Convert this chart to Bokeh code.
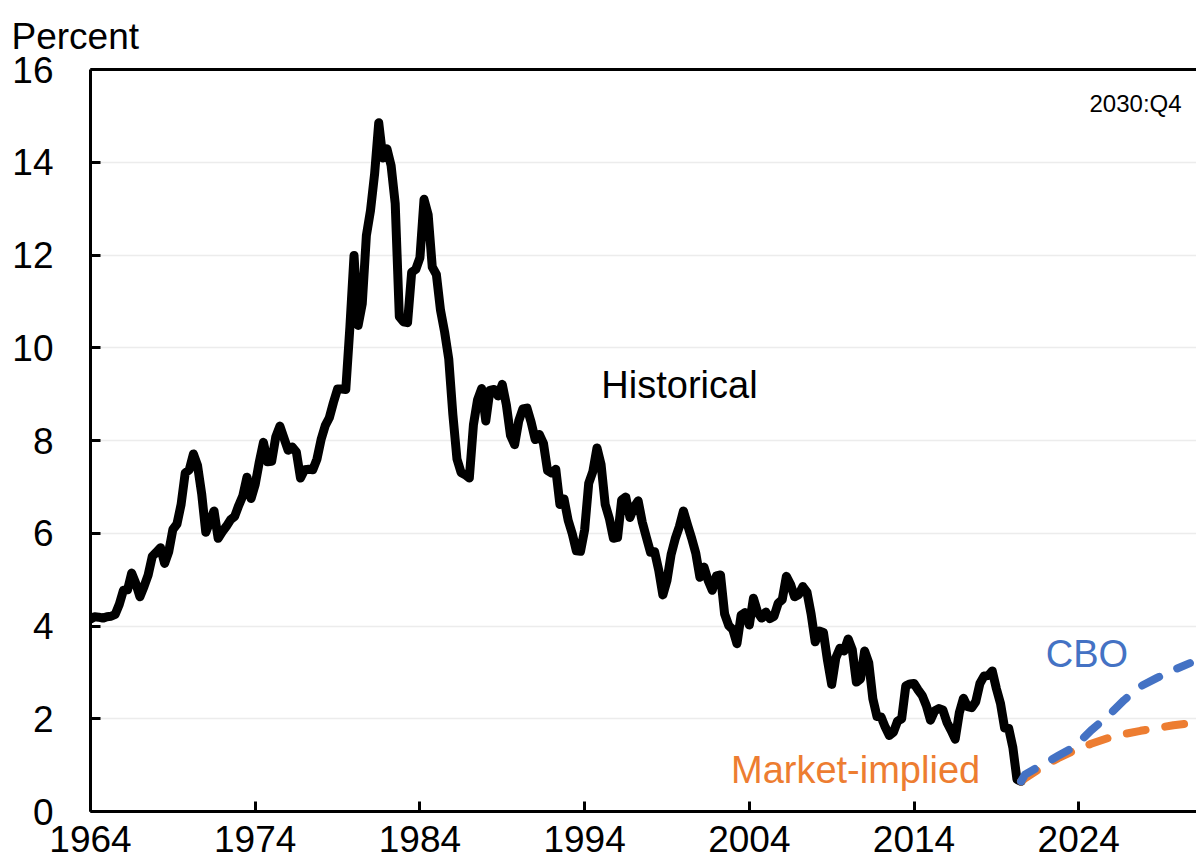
from bokeh.plotting import figure
from bokeh.models import Label, FixedTicker, LinearAxis, Range1d, ColumnDataSource
from bokeh.embed import file_html
from bokeh.resources import INLINE

# ---------------- data ----------------
hist_start_year = 1964  # first quarter: 1964:Q1, quarterly observations
hist_yield = [
    4.15, 4.20, 4.19, 4.17,   # 1964
    4.20, 4.21, 4.25, 4.47,   # 1965
    4.77, 4.78, 5.14, 4.92,   # 1966
    4.63, 4.85, 5.10, 5.50,   # 1967
    5.59, 5.69, 5.35, 5.60,   # 1968
    6.08, 6.20, 6.62, 7.30,   # 1969
    7.37, 7.71, 7.46, 6.85,   # 1970
    6.02, 6.25, 6.48, 5.89,   # 1971
    6.03, 6.15, 6.29, 6.36,   # 1972
    6.60, 6.81, 7.21, 6.75,   # 1973
    7.05, 7.54, 7.96, 7.54,   # 1974
    7.55, 8.08, 8.31, 8.05,   # 1975
    7.79, 7.86, 7.75, 7.19,   # 1976
    7.37, 7.38, 7.37, 7.60,   # 1977
    8.02, 8.32, 8.49, 8.82,   # 1978
    9.11, 9.11, 9.10, 10.45,  # 1979
    11.99, 10.48, 10.95, 12.42,  # 1980
    12.96, 13.75, 14.85, 14.09,  # 1981
    14.29, 13.93, 13.11, 10.67,  # 1982
    10.56, 10.54, 11.63, 11.69,  # 1983
    11.94, 13.20, 12.87, 11.74,  # 1984
    11.58, 10.81, 10.34, 9.76,   # 1985
    8.56, 7.60, 7.31, 7.26,   # 1986
    7.19, 8.34, 8.88, 9.12,   # 1987
    8.42, 9.08, 9.10, 8.96,   # 1988
    9.21, 8.77, 8.11, 7.91,   # 1989
    8.42, 8.68, 8.70, 8.40,   # 1990
    8.02, 8.13, 7.94, 7.35,   # 1991
    7.30, 7.38, 6.62, 6.74,   # 1992
    6.28, 5.99, 5.62, 5.61,   # 1993
    6.07, 7.08, 7.33, 7.84,   # 1994
    7.48, 6.62, 6.32, 5.89,   # 1995
    5.91, 6.72, 6.78, 6.34,   # 1996
    6.56, 6.70, 6.24, 5.91,   # 1997
    5.59, 5.60, 5.20, 4.67,   # 1998
    4.98, 5.54, 5.88, 6.14,   # 1999
    6.48, 6.18, 5.89, 5.57,   # 2000
    5.05, 5.27, 4.98, 4.77,   # 2001
    5.08, 5.10, 4.26, 4.01,   # 2002
    3.92, 3.62, 4.23, 4.29,   # 2003
    4.02, 4.60, 4.30, 4.17,   # 2004
    4.30, 4.16, 4.21, 4.49,   # 2005
    4.57, 5.07, 4.90, 4.63,   # 2006
    4.68, 4.85, 4.73, 4.26,   # 2007
    3.66, 3.89, 3.86, 3.25,   # 2008
    2.74, 3.31, 3.52, 3.46,   # 2009
    3.72, 3.49, 2.79, 2.86,   # 2010
    3.46, 3.21, 2.43, 2.05,   # 2011
    2.04, 1.82, 1.64, 1.71,   # 2012
    1.95, 2.00, 2.71, 2.75,   # 2013
    2.76, 2.62, 2.50, 2.28,   # 2014
    1.97, 2.17, 2.22, 2.19,   # 2015
    1.92, 1.75, 1.56, 2.13,   # 2016
    2.44, 2.26, 2.24, 2.37,   # 2017
    2.76, 2.92, 2.93, 3.03,   # 2018
    2.65, 2.33, 1.80, 1.79,   # 2019
    1.38, 0.69, 0.65,         # 2020
]

proj_dates = [2020.5, 2020.75, 2021.75, 2022.75, 2023.75, 2024.75,
              2025.75, 2026.75, 2027.75, 2028.75, 2029.75, 2030.75]
cbo_yield = [0.65, 0.80, 1.00, 1.20, 1.40, 1.75, 2.05, 2.40, 2.70, 2.88, 3.05, 3.20]
market_yield = [0.65, 0.72, 0.95, 1.15, 1.32, 1.46, 1.58, 1.67, 1.74, 1.80, 1.86, 1.90]

x_ticks = [1964, 1974, 1984, 1994, 2004, 2014, 2024]
y_ticks = [0, 2, 4, 6, 8, 10, 12, 14, 16]

# ---------------- figure ----------------
FONT = "Liberation Sans"
BLUE = "#4472C4"
ORANGE = "#ED7D31"

hist_x = [hist_start_year + 0.25 * i for i in range(len(hist_yield))]
hist_src = ColumnDataSource(dict(x=hist_x, y=hist_yield))
proj_src = ColumnDataSource(dict(x=proj_dates, cbo=cbo_yield, mkt=market_yield))

p = figure(width=1196, height=868,
           x_range=Range1d(1964, 2031.15), y_range=Range1d(0, 16),
           output_backend="svg", toolbar_location=None,
           min_border_left=90, min_border_right=0,
           min_border_top=69, min_border_bottom=57,
           title="Percent")
p.outline_line_color = None
p.background_fill_color = "white"
p.border_fill_color = "white"

p.title.text_font = FONT
p.title.text_font_size = "37px"
p.title.text_font_style = "normal"
p.title.text_color = "black"
p.title.align = "left"
p.title.offset = -79
p.title.standoff = 26

# grid
p.xgrid.visible = False
p.ygrid.ticker = FixedTicker(ticks=y_ticks[1:-1])
p.ygrid.grid_line_color = "#ececec"
p.ygrid.grid_line_width = 1.5

# axes
for ax in (p.xaxis[0], p.yaxis[0]):
    ax.axis_line_color = "black"
    ax.axis_line_width = 3
    ax.major_tick_line_color = "black"
    ax.major_tick_line_width = 3
    ax.major_tick_in = 10
    ax.major_tick_out = 0
    ax.minor_tick_line_color = None
    ax.minor_tick_in = 0
    ax.minor_tick_out = 0
    ax.major_label_text_font = FONT
    ax.major_label_text_font_size = "37px"
    ax.major_label_text_color = "black"

p.xaxis.ticker = FixedTicker(ticks=x_ticks)
p.xaxis.major_label_standoff = 14
p.yaxis.ticker = FixedTicker(ticks=y_ticks)
p.yaxis.major_label_standoff = 37

top_axis = LinearAxis(ticker=FixedTicker(ticks=[]), axis_line_width=3,
                      axis_line_color="black", major_label_text_font_size="0px",
                      major_tick_line_color=None, minor_tick_line_color=None,
                      major_tick_in=0, major_tick_out=0,
                      minor_tick_in=0, minor_tick_out=0,
                      major_label_standoff=0)
p.add_layout(top_axis, "above")

# lines
p.line("x", "y", source=hist_src, line_color="black", line_width=9,
       line_join="round", line_cap="round")
p.line("x", "mkt", source=proj_src, line_color=ORANGE, line_width=8,
       line_dash="19 20", line_cap="round", line_join="round")
p.line("x", "cbo", source=proj_src, line_color=BLUE, line_width=8,
       line_dash="19 20", line_cap="round", line_join="round")

# annotations
p.add_layout(Label(x=1999.76, y=9.19, text="Historical", text_font=FONT,
                   text_font_size="38px", text_color="black",
                   text_align="center", text_baseline="middle"))
p.add_layout(Label(x=2024.5, y=3.39, text="CBO", text_font=FONT,
                   text_font_size="38px", text_color=BLUE,
                   text_align="center", text_baseline="middle"))
p.add_layout(Label(x=2010.45, y=0.9, text="Market-implied", text_font=FONT,
                   text_font_size="38px", text_color=ORANGE,
                   text_align="center", text_baseline="middle"))
p.add_layout(Label(x=2027.45, y=15.27, text="2030:Q4", text_font=FONT,
                   text_font_size="24px", text_color="black",
                   text_align="center", text_baseline="middle"))

open("out.html", "w").write(file_html(p, INLINE))
